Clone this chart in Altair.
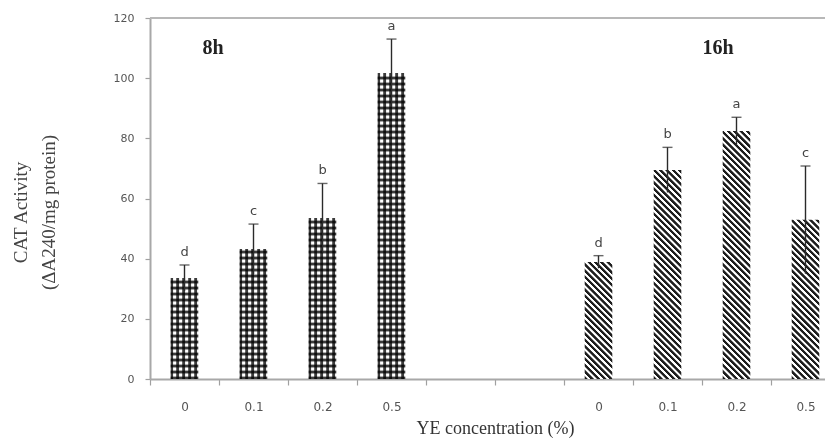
import json
import altair as alt

# ---------------- data ----------------
slots = ["8h|0", "8h|0.1", "8h|0.2", "8h|0.5", "gap1", "gap2",
         "16h|0", "16h|0.1", "16h|0.2", "16h|0.5"]
tick_labels = ["0", "0.1", "0.2", "0.5", "", "", "0", "0.1", "0.2", "0.5"]

bar_slots = ["8h|0", "8h|0.1", "8h|0.2", "8h|0.5",
             "16h|0", "16h|0.1", "16h|0.2", "16h|0.5"]
groups = ["8h", "8h", "8h", "8h", "16h", "16h", "16h", "16h"]
values = [33.6, 43.2, 53.5, 101.7, 38.9, 69.5, 82.4, 52.9]
errors = [4.3, 8.3, 11.5, 11.3, 2.1, 7.5, 4.6, 17.9]
letters = ["d", "c", "b", "a", "d", "b", "a", "c"]

group_names = ["8h", "16h"]
group_anchor = ["8h|0", "16h|0.1"]

# ---------------- layout / style ----------------
PLOT_W = 675
PLOT_H = 361
STEP = 69
Y_MAX = 120
BAR_W = STEP * 0.4
PX = PLOT_H / Y_MAX


def soft_stops(n, dark, light, prof_pts=(0.0, 0.42, 0.58, 0.92)):
    stops = []
    prof = [(prof_pts[0], dark), (prof_pts[1], dark), (prof_pts[2], light), (prof_pts[3], light)]
    i = 0
    while i < n:
        for f, c in prof:
            o = (i + f) / n
            if o > 1:
                break
            stops.append({"offset": round(o, 5), "color": c})
        i += 1
    stops.append({"offset": 1, "color": stops[-1]["color"]})
    return stops


def hatch(h):
    r = h / BAR_W
    s = (1 + r) / (1 + r * r)
    n = (BAR_W + h) / 6.3
    return {"gradient": "linear", "x1": 0, "y1": 1, "x2": round(s, 6),
            "y2": round(1 - s * r, 6), "stops": soft_stops(n, "#1e1e1e", "#ffffff")}


GRID_PROFILE = (0.0, 0.32, 0.48, 0.85)


def hstripes(h):
    return {"gradient": "linear", "x1": 0, "y1": 1, "x2": 0, "y2": 0,
            "stops": soft_stops(h / 6.0, "#3c3c3c", "#ffffff", GRID_PROFILE)}


def vstripes():
    return {"gradient": "linear", "x1": 0, "y1": 0, "x2": 1, "y2": 0,
            "stops": soft_stops(BAR_W / 6.0, "#3c3c3c", "#ffffff", GRID_PROFILE)}


rows = []
for s, g, v, e, l in zip(bar_slots, groups, values, errors, letters):
    h = v * PX
    rows.append({
        "slot": s, "group": g, "value": v, "lo": v - e, "hi": v + e,
        "letter": l,
        "g1": hstripes(h) if g == "8h" else hatch(h),
        "g2": vstripes() if g == "8h" else None,
    })

label_expr = f"{json.dumps(tick_labels)}[indexof({json.dumps(slots)}, datum.value)]"

x_scale = alt.Scale(domain=slots, range=[0, STEP * len(slots)],
                    paddingInner=0.6, paddingOuter=0.3)
x_axis = alt.Axis(labelExpr=label_expr, tickOffset=-STEP / 2, labelOffset=STEP / 2,
                  labelAngle=0,
                  labelFont="DejaVu Sans", labelFontSize=12, labelColor="#555555",
                  tickColor="#a0a0a0", tickSize=6, tickWidth=1.2,
                  domainColor="#a8a8a8", domainWidth=2, labelPadding=16,
                  titleFont="Liberation Serif", titleFontSize=18,
                  titleFontWeight="normal", titleColor="#333333", titlePadding=7)
y_scale = alt.Scale(domain=[0, Y_MAX], nice=False, zero=True)
y_axis = alt.Axis(values=[0, 20, 40, 60, 80, 100, 120], grid=False,
                  labelFont="DejaVu Sans", labelFontSize=11, labelColor="#555555",
                  tickColor="#a0a0a0", tickSize=5, tickWidth=1.2,
                  domainColor="#a8a8a8", domainWidth=2, labelPadding=11,
                  titleFont="Liberation Serif", titleFontSize=19,
                  titleFontWeight="normal", titleColor="#444444",
                  titleAngle=270, titleAlign="center", titleBaseline="top",
                  titleX=-139, titleY=194, titleLineHeight=28)
X_TITLE = "YE concentration (%)"
Y_TITLE = ["CAT Activity", "(ΔA240/mg protein)"]


def X():
    return alt.X("slot:N", scale=x_scale, axis=x_axis, title=X_TITLE)


def Y(field):
    return alt.Y(field, scale=y_scale, axis=y_axis, title=Y_TITLE)


base = alt.Chart(alt.Data(values=rows))

bars = base.mark_bar().encode(
    x=X(), y=Y("value:Q"),
    fill=alt.Fill("g1:N", scale=None),
)

bars_grid = base.transform_filter(alt.datum.group == "8h").mark_bar(blend="multiply").encode(
    x=X(), y=Y("value:Q"),
    fill=alt.Fill("g2:N", scale=None),
)

err = base.mark_rule(color="#2a2a2a", strokeWidth=1.4).encode(
    x=X(), y=Y("lo:Q"), y2="hi:Q")

caps = base.mark_tick(color="#2a2a2a", thickness=1.4, size=10).encode(
    x=X(), y=Y("hi:Q"))

txt = base.mark_text(baseline="bottom", dy=-6, font="DejaVu Sans",
                     fontSize=13, color="#444444").encode(
    x=X(), y=Y("hi:Q"), text="letter:N")

top_line = alt.Chart(alt.Data(values=[{"v": Y_MAX}])).mark_rule(
    color="#b8b8b8", strokeWidth=2).encode(y=alt.Y("v:Q", scale=y_scale, axis=y_axis, title=Y_TITLE))

g8 = alt.Chart(alt.Data(values=[{"slot": group_anchor[0], "label": group_names[0]}])).mark_text(
    align="left", baseline="alphabetic", dx=18, font="Liberation Serif",
    fontSize=20, fontWeight="bold", color="#222222").encode(
    x=X(), y=alt.datum(108), text="label:N")

g16 = alt.Chart(alt.Data(values=[{"slot": group_anchor[1], "label": group_names[1]}])).mark_text(
    align="left", baseline="alphabetic", dx=35, font="Liberation Serif",
    fontSize=20, fontWeight="bold", color="#222222").encode(
    x=X(), y=alt.datum(108), text="label:N")

chart = alt.layer(top_line, bars, bars_grid, err, caps, txt, g8, g16).properties(
    width=PLOT_W, height=PLOT_H,
    autosize=alt.AutoSizeParams(type="none"),
    padding={"left": 142, "top": 10, "right": 0, "bottom": 59},
    background="white",
).configure_view(stroke=None)

chart.save("out.html", embed_options={"renderer": "svg", "actions": False})
